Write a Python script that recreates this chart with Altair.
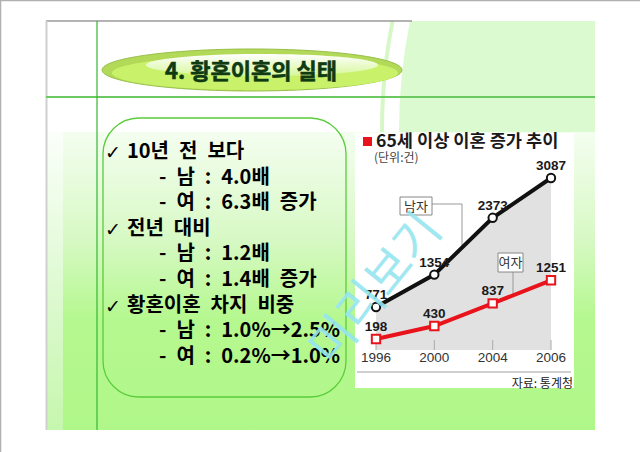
import altair as alt
import pandas as pd

# ---------------- data ----------------
years = ["1996", "2000", "2004", "2006"]
male = [771, 1354, 2373, 3087]
female = [198, 430, 837, 1251]

slide_title = "4. 황혼이혼의 실태"
bullet_heads = ["10년 전 보다", "전년 대비", "황혼이혼 차지 비중"]
bullet_subs = [
    ["- 남 : 4.0배", "- 여 : 6.3배 증가"],
    ["- 남 : 1.2배", "- 여 : 1.4배 증가"],
    ["- 남 : 1.0%→2.5%", "- 여 : 0.2%→1.0%"],
]
chart_title = "65세 이상 이혼 증가 추이"
unit_text = "(단위:건)"
source_text = "자료: 통계청"
series_names = ["남자", "여자"]
watermark = "미리보기"

df = pd.DataFrame(
    {"year": years * 2,
     "value": male + female,
     "sex": [series_names[0]] * len(years) + [series_names[1]] * len(years)}
)
df_m = df[df["sex"] == series_names[0]]
df_f = df[df["sex"] == series_names[1]]
df_years = pd.DataFrame({"year": years})
dummy = pd.DataFrame({"_": [0]})

KR = "Noto Sans CJK KR"
LAT = "Liberation Sans"

X = alt.X("year:O", scale=alt.Scale(type="point", domain=years, range=[376, 551], padding=0), axis=None)
Y = alt.Y("value:Q", scale=alt.Scale(domain=[0, 3500], range=[350, 155]), axis=None)


def rect(x, x2, y, y2, **mk):
    return alt.Chart(dummy).mark_rect(**mk).encode(
        x=alt.value(x), x2=alt.value(x2), y=alt.value(y), y2=alt.value(y2))


def hline(x, x2, y, **mk):
    return alt.Chart(dummy).mark_rule(**mk).encode(
        x=alt.value(x), x2=alt.value(x2), y=alt.value(y))


def vline(x, y, y2, **mk):
    return alt.Chart(dummy).mark_rule(**mk).encode(
        x=alt.value(x), y=alt.value(y), y2=alt.value(y2))


def label(x, y, text, **mk):
    return alt.Chart(dummy).mark_text(**mk).encode(
        x=alt.value(x), y=alt.value(y), text=alt.value(text))


def ellipse(cx, cy, w, ratio, **mk):
    path = f"M-1,0A1,{ratio} 0 1,1 1,0A1,{ratio} 0 1,1 -1,0Z"
    return alt.Chart(dummy).mark_point(shape=path, filled=True, opacity=1, **mk).encode(
        x=alt.value(cx), y=alt.value(cy), size=alt.value(w * w))


def vgrad(stops):
    return alt.LinearGradient(
        gradient="linear", x1=0, x2=0, y1=0, y2=1,
        stops=[alt.GradientStop(offset=o, color=c) for o, c in stops])


layers = []

# ---- decorative background ----
layers.append(alt.Chart(dummy).mark_point(shape="circle", filled=True, opacity=1, color="#dcfad0").encode(
    x=alt.value(944), y=alt.value(130), size=alt.value(1090 * 1090)))
layers.append(alt.Chart(dummy).mark_point(shape="circle", filled=False, opacity=1, color="#d6f8c6", strokeWidth=4).encode(
    x=alt.value(944), y=alt.value(130), size=alt.value(1124 * 1124)))
# white covers outside the slide
layers.append(rect(0, 640, 0, 21, color="white"))
layers.append(rect(595, 640, 0, 452, color="white"))
layers.append(rect(0, 640, 430, 452, color="white"))
# gradient body
layers.append(rect(63, 595, 132, 430, color=vgrad([(0, "#f4fef0"), (0.35, "#d8f9c6"), (0.63, "#b5f88f"), (1, "#b0f789")])))
layers.append(rect(46, 63, 132, 430, color=vgrad([(0, "#fbfffa"), (0.6, "#daf9cc"), (1, "#c6f7ae")])))
# frame lines
layers.append(hline(46, 412, 21, color="#9a9a9a", strokeWidth=1.5))
layers.append(vline(46.5, 21, 430, color="#d0d0d0", strokeWidth=2))
layers.append(hline(46, 595, 97, color="#6cc860", strokeWidth=2))
layers.append(vline(97, 21, 430, color="#33b833", strokeWidth=1.2))
layers.append(hline(0, 640, 0.5, color="#b0b0b0", strokeWidth=1.5))
layers.append(vline(0.5, 0, 452, color="#b0b0b0", strokeWidth=1.5))

# ---- title ellipse ----
layers.append(ellipse(252, 70, 300, 0.14, color="#b2d957", stroke="#98c048", strokeWidth=1))
layers.append(ellipse(255, 73, 286, 0.12, color="#c9f26a"))
layers.append(ellipse(262, 65, 232, 0.095, color=vgrad([(0, "#ffffff"), (1, "#d6f79a")])))
layers.append(label(251, 72, slide_title, font=KR, fontSize=22, fontWeight="bold", color="#0f3a12",
                    stroke="#0f3a12", strokeWidth=0.6, align="center", baseline="middle"))

# ---- rounded text box ----
layers.append(rect(103, 346, 118, 397, filled=False, color="#5acd3a", strokeWidth=1.3, cornerRadius=36))

row = 0
for head, subs in zip(bullet_heads, bullet_subs):
    yy = 152 + 25.6 * row
    layers.append(label(105, yy + 1, "✓", font="DejaVu Sans", fontSize=19, fontWeight="bold",
                        color="black", align="left", baseline="middle"))
    layers.append(label(127, yy, head.replace(" ", "\u2002"), font=KR, fontSize=20, fontWeight="bold",
                        color="black", align="left", baseline="middle"))
    row += 1
    for s in subs:
        yy = 152 + 25.6 * row
        layers.append(label(159, yy, s.replace(" ", "\u2002"), font=KR, fontSize=20, fontWeight="bold",
                            color="black", align="left", baseline="middle"))
        row += 1

# ---- inset chart ----
layers.append(rect(355, 574, 133, 388, color="white"))
layers.append(rect(363, 372, 137, 146, color="#e8131b"))
layers.append(label(376, 142, chart_title, font=KR, fontSize=17.6, fontWeight="bold", color="#1a1a1a",
                    align="left", baseline="middle"))
layers.append(label(374, 158, unit_text, font=KR, fontSize=12, color="#444444", align="left", baseline="middle"))

layers.append(alt.Chart(df_m).mark_area(color="#e1e1e1").encode(x=X, y=Y))
layers.append(alt.Chart(df_years).mark_rule(color="#aaaaaa", strokeWidth=1).encode(
    x=X, y=alt.value(340), y2=alt.value(350)))

# callouts
layers.append(hline(432, 462, 204, color="#999999", strokeWidth=1))
layers.append(vline(462, 204, 245, color="#999999", strokeWidth=1))
layers.append(vline(513, 272, 294, color="#999999", strokeWidth=1))
layers.append(rect(400, 432, 197, 215, color="white", stroke="#888888", strokeWidth=1))
layers.append(label(416, 206.5, series_names[0], font=KR, fontSize=13, color="#333333", align="center", baseline="middle"))
layers.append(rect(498, 523, 253, 272, color="white", stroke="#888888", strokeWidth=1))
layers.append(label(510.5, 262.5, series_names[1], font=KR, fontSize=13, color="#333333", align="center", baseline="middle"))

layers.append(alt.Chart(df_m).mark_line(color="#111111", strokeWidth=4).encode(x=X, y=Y))
layers.append(alt.Chart(df_f).mark_line(color="#e8131b", strokeWidth=4).encode(x=X, y=Y))
layers.append(alt.Chart(df_m).mark_point(shape="circle", filled=True, fill="white", stroke="#111111",
                                         strokeWidth=2, size=70, opacity=1).encode(x=X, y=Y))
layers.append(alt.Chart(df_f).mark_point(shape="square", filled=True, fill="white", stroke="#e8131b",
                                         strokeWidth=2, size=70, opacity=1).encode(x=X, y=Y))
layers.append(alt.Chart(df).mark_text(font=LAT, fontSize=13.5, fontWeight="bold", color="#1a1a1a",
                                      dy=-12, baseline="middle").encode(x=X, y=Y, text="value:Q"))
layers.append(alt.Chart(df_years).mark_text(font=LAT, fontSize=13.5, color="#333333", baseline="middle").encode(
    x=X, y=alt.value(358), text="year:O"))

layers.append(hline(357, 571, 372, color="#d0d0d0", strokeWidth=2))
layers.append(label(573, 384, source_text, font=KR, fontSize=12, color="#222222", align="right", baseline="middle"))

# ---- watermark ----
layers.append(label(377, 290, watermark, font=KR, fontSize=48, color="#96e6f0", opacity=0.9,
                    angle=309, align="center", baseline="middle"))

chart = alt.layer(*layers).properties(
    width=640, height=452, padding=0, autosize=alt.AutoSizeParams(type="none"), background="white"
).configure_view(stroke=None)

chart.save("out.html", embed_options={"renderer": "svg", "actions": False})
